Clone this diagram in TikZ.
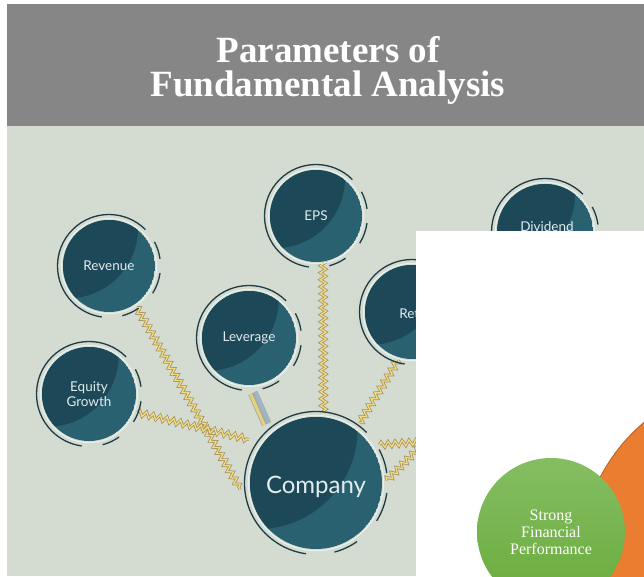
\documentclass[tikz,border=0pt]{standalone}
\usepackage{fontspec}
\setmainfont{Liberation Serif}
\newfontfamily\latofont{Lato}
\usetikzlibrary{decorations.pathmorphing,calc}
\pgfdeclarelayer{paper}
\pgfdeclarelayer{links}
\pgfdeclarelayer{cover}
\pgfsetlayers{paper,links,main,cover}

\definecolor{headgray}{HTML}{868686}
\definecolor{sage}{HTML}{D4DCD1}
\definecolor{tealdark}{HTML}{1C4858}
\definecolor{teallight}{HTML}{2A6170}
\definecolor{ringdark}{HTML}{1F3B44}
\definecolor{ringlight}{HTML}{E6F0EE}
\definecolor{bubtext}{HTML}{E2ECEE}
\definecolor{linktan}{HTML}{A38E5E}
\definecolor{linkgold}{HTML}{F2DD7E}
\definecolor{leafgreen}{HTML}{6AAB3C}
\definecolor{leaflight}{HTML}{84BE62}
\definecolor{peel}{HTML}{EB7D31}
\definecolor{peeledge}{HTML}{B45E24}
\definecolor{bandgray}{HTML}{A9ACA3}
\definecolor{bandgold}{HTML}{E3D37E}
\definecolor{bandblue}{HTML}{9EB6CC}

\tikzset{
  bubtxt/.style={circle, inner sep=0pt, text=bubtext,
    font=\latofont\fontsize{13.5}{15}\selectfont, align=center},
  wavy/.style={draw=linktan, double=linkgold, double distance=1.3pt,
    line width=0.75pt, decorate,
    decoration={zigzag, segment length=7pt, amplitude=2.8pt}},
  ringarc/.style={draw=ringdark, line width=1.3pt},
  titletxt/.style={text=white, inner sep=0pt, anchor=base,
    font=\bfseries\fontsize{37}{40}\selectfont},
}

% one arc of the dark outer ring: centre x, centre y, radius, from, to
\newcommand\ringpiece[5]{%
  \draw[ringarc] ($(#1,#2)+(#4:#3)$) arc[start angle=#4, end angle=#5, radius=#3];}

% a shaded teal disc with its rings: name, x, y, radius, text
\newcommand\bubble[5]{%
  \begin{scope}
    \clip (#2,#3) circle (#4);
    \fill[teallight] (#2,#3) circle (#4);
    \fill[tealdark] ($(#2,#3)+(-0.89*#4,0.82*#4)$) circle (1.52*#4);
  \end{scope}
  \draw[ringlight, line width=1.1pt] (#2,#3) circle (#4+1.6);
  \ringpiece{#2}{#3}{#4+5.5}{45}{262}
  \ringpiece{#2}{#3}{#4+5.5}{285}{305}
  \ringpiece{#2}{#3}{#4+5.5}{328}{352}
  \ringpiece{#2}{#3}{#4+5.5}{8}{28}
  \node[bubtxt, minimum size=2*#4 pt] (#1) at (#2,#3) {#5};}

\begin{document}
\begin{tikzpicture}[x=1pt,y=1pt]
\useasboundingbox (0,0) rectangle (644,576);
\clip (0,0) rectangle (644,576);

\begin{pgfonlayer}{paper}
  \fill[white] (0,0) rectangle (644,576);
  \fill[headgray] (7,450) rectangle (644,572);
  \fill[sage] (7,0) rectangle (644,450);
\end{pgfonlayer}

\node[titletxt] (title1) at (328,513) {Parameters of};
\node[titletxt] (title2) at (328,479) {Fundamental Analysis};

% parameter bubbles
\bubble{rev}{109}{310}{46}{Revenue}
\bubble{eqg}{89}{182}{47}{Equity\\Growth}
\bubble{eps}{316}{360}{46}{EPS}
\bubble{lev}{249}{238}{47}{Leverage}
\bubble{ret}{412}{264}{47}{}
\bubble{div}{545}{344}{48}{}
\node[bubtxt, anchor=west] (retlabel) at (398,262) {Ret};
\node[bubtxt] (divlabel) at (547,349) {Dividend};

% central bubble
\bubble{comp}{316}{93}{66}{}
\node[bubtxt, font=\latofont\fontsize{24}{26}\selectfont] (complabel) at (316,89) {Company};

% links from the parameters to the company
\begin{pgfonlayer}{links}
  \draw[wavy] ($(rev)+(-56:50)$) -- ($(comp)+(185:76)$);
  \draw[wavy] ($(eqg)+(-21:52)$) -- ($(comp)+(147:80)$);
  \draw[wavy] ($(eps)+(-81:45)$) -- ($(comp)+(84:71)$);
  \draw[wavy] ($(ret)+(-106:50)$) -- ($(comp)+(54:74)$);
  \coordinate (offA) at (460,137);
  \coordinate (offB) at (450,160);
  \draw[wavy] ($(comp)+(31:74)$) -- (offA);
  \draw[wavy] ($(comp)+(2:71)$) -- (offB);
  % striped band from leverage
  \draw[bandgray, line width=10pt] ($(lev)+(-86:55)$) -- ($(comp)+(130:77)$);
  \draw[bandgold, line width=3pt, transform canvas={shift={(-2.4,-1)}}]
    ($(lev)+(-86:55)$) -- ($(comp)+(130:77)$);
  \draw[bandblue, line width=3pt, transform canvas={shift={(2.4,1)}}]
    ($(lev)+(-86:55)$) -- ($(comp)+(130:77)$);
\end{pgfonlayer}

% white panel with the performance circles
\begin{pgfonlayer}{cover}
  \fill[white] (416,-1) rectangle (645,345);
  \fill[peel] (760,16) circle (180);
  \draw[peeledge, line width=0.8pt] (760,16) circle (180);
  \shade[top color=leaflight, bottom color=leafgreen] (551,44) circle (74);
  \node[align=center, text=white, inner sep=0pt,
        font=\fontsize{16}{17}\selectfont] (perf) at (551,44)
        {Strong\\Financial\\Performance};
\end{pgfonlayer}
\end{tikzpicture}
\end{document}
